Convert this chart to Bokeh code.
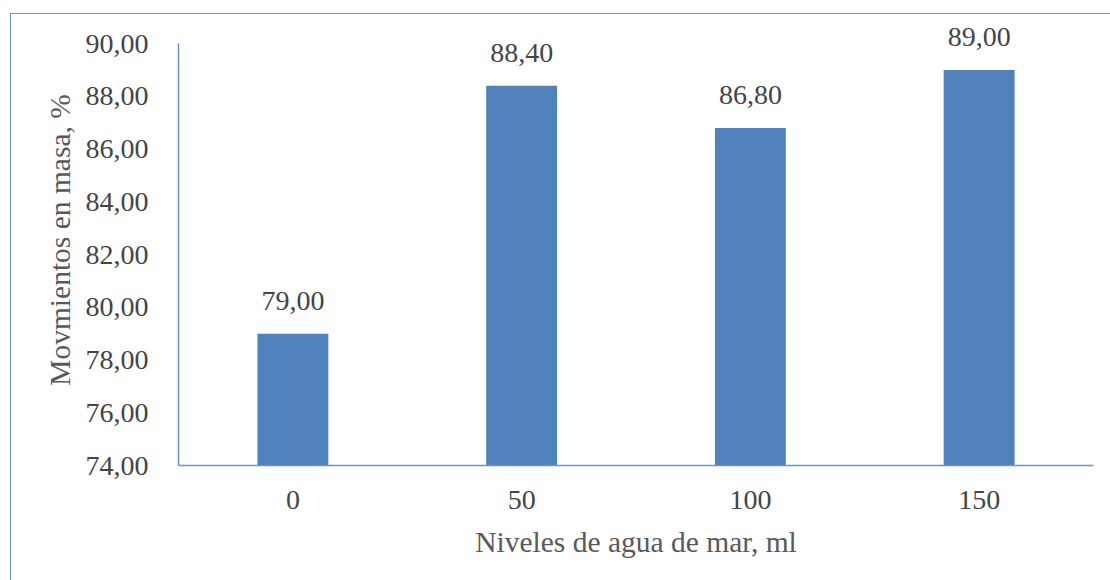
from bokeh.plotting import figure
from bokeh.models import ColumnDataSource, FixedTicker, Range1d
from bokeh.embed import file_html
from bokeh.resources import INLINE
from bokeh.core.properties import value

categories = ["0", "50", "100", "150"]
values = [79.00, 88.40, 86.80, 89.00]
y_ticks = [74, 76, 78, 80, 82, 84, 86, 88, 90]
y_tick_labels = ["74,00", "76,00", "78,00", "80,00", "82,00", "84,00", "86,00", "88,00", "90,00"]
x_title = "Niveles de agua de mar, ml"
y_title = "Movmientos en masa, %"

labels = [f"{v:.2f}".replace(".", ",") for v in values]
src = ColumnDataSource(dict(cat=categories, val=values, lab=labels, base=[74] * len(values)))

FONT = "Liberation Serif"
TXT = "#454545"
TTL = "#595959"
AX = "#6A93CC"

p = figure(x_range=categories, y_range=Range1d(74, 91.1), width=1100, height=567,
           output_backend="svg", toolbar_location=None,
           min_border_left=167, min_border_right=18, min_border_top=0, min_border_bottom=116,
           margin=(13, 0, 0, 10),
           styles={"border-left": f"1.5px solid {AX}", "border-top": f"1.5px solid {AX}"})
p.outline_line_color = None
p.xgrid.grid_line_color = None
p.ygrid.grid_line_color = None

p.vbar(x="cat", top="val", bottom="base", width=0.31, source=src,
       fill_color="#4F81BD", line_color=None)
p.text(x="cat", y="val", text="lab", source=src, text_align="center", text_baseline="bottom",
       y_offset=-24, text_font=value(FONT), text_font_size="28px", text_color=TXT)

p.yaxis.ticker = FixedTicker(ticks=y_ticks)
p.yaxis.bounds = (74, 90)
p.yaxis.major_label_overrides = {t: l for t, l in zip(y_ticks, y_tick_labels)}
for ax in (p.xaxis, p.yaxis):
    ax.axis_line_color = AX
    ax.axis_line_width = 1.5
    ax.major_tick_line_color = None
    ax.minor_tick_line_color = None
    ax.major_label_text_font = FONT
    ax.major_label_text_font_size = "28px"
    ax.major_label_text_color = TXT
    ax.axis_label_text_font = FONT
    ax.axis_label_text_font_size = "29.5px"
    ax.axis_label_text_font_style = "normal"
    ax.axis_label_text_color = TTL
p.yaxis.major_label_standoff = 24
p.xaxis.major_label_standoff = 19
p.yaxis.axis_label = y_title
p.xaxis.axis_label = x_title
p.yaxis.axis_label_standoff = 7
p.xaxis.axis_label_standoff = 14

open("out.html", "w").write(file_html(p, INLINE))
